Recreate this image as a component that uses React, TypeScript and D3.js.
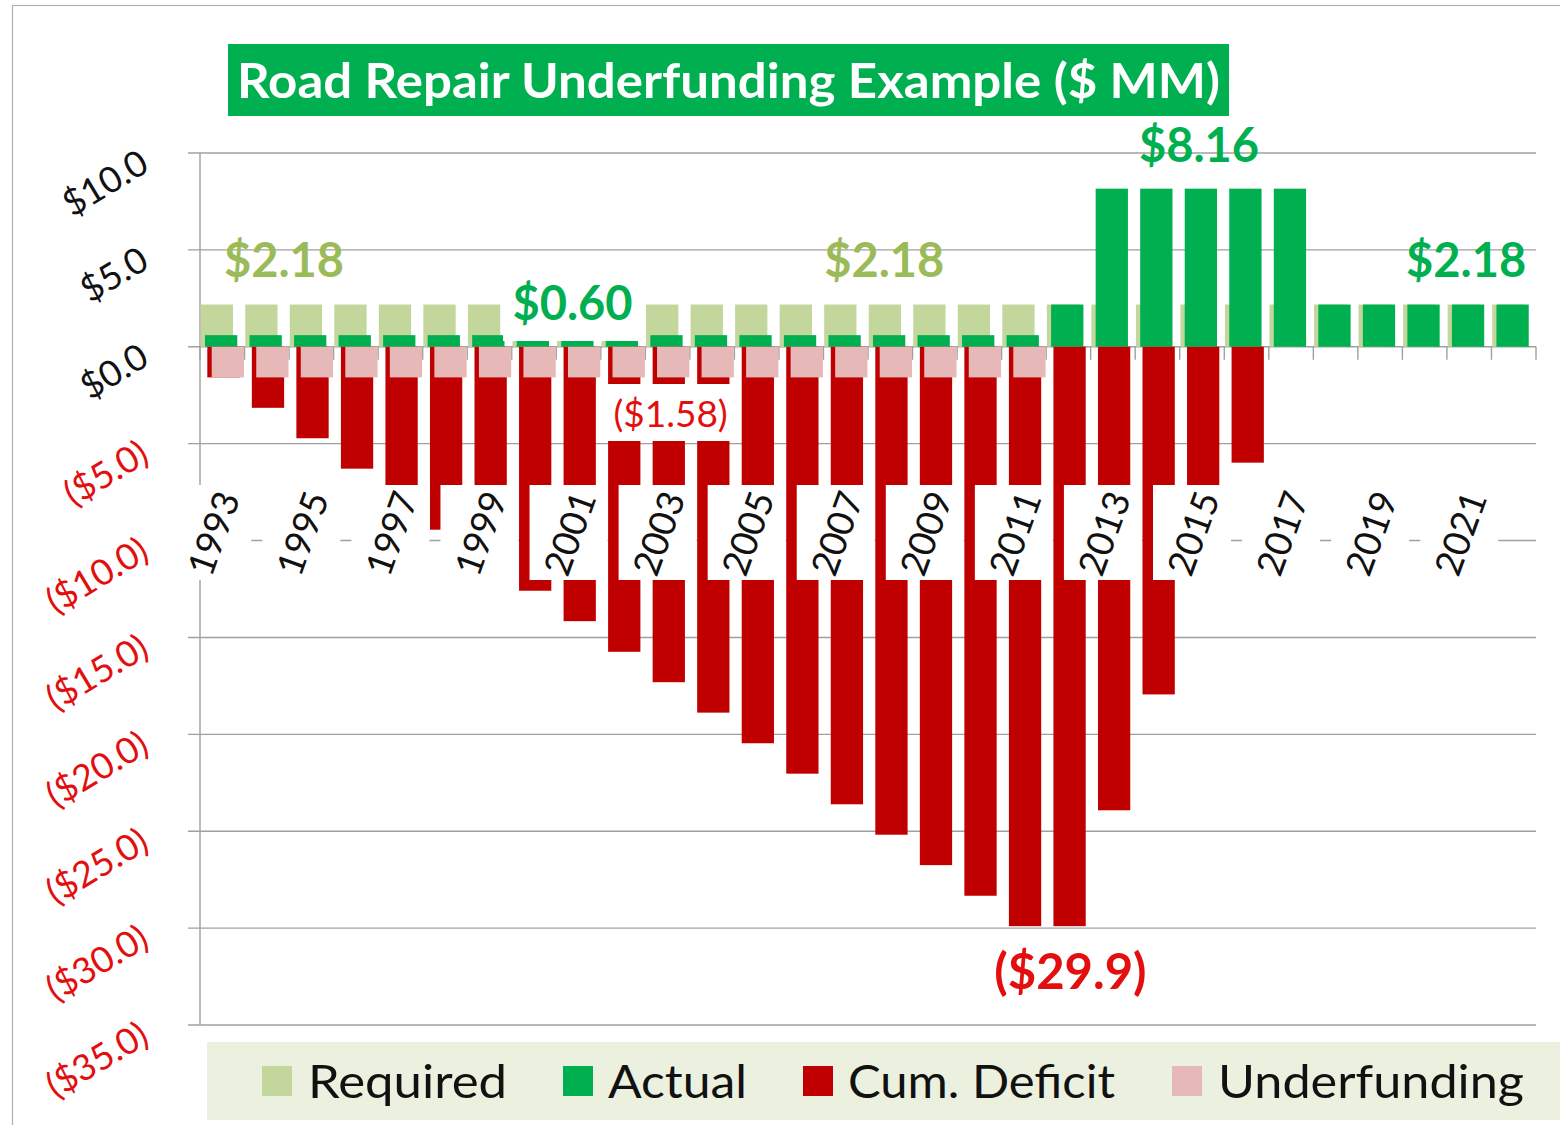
import React from 'react';
import * as d3 from 'd3';

const years = ['1993','1994','1995','1996','1997','1998','1999','2000','2001','2002','2003','2004','2005','2006','2007','2008','2009','2010','2011','2012','2013','2014','2015','2016','2017','2018','2019','2020','2021','2022'];
const required = [2.18,2.18,2.18,2.18,2.18,2.18,2.18,2.18,2.18,2.18,2.18,2.18,2.18,2.18,2.18,2.18,2.18,2.18,2.18,2.18,2.18,2.18,2.18,2.18,2.18,2.18,2.18,2.18,2.18,2.18];
const actual = [0.6,0.6,0.6,0.6,0.6,0.6,0.6,0.6,0.6,0.6,0.6,0.6,0.6,0.6,0.6,0.6,0.6,0.6,0.6,2.18,8.16,8.16,8.16,8.16,8.16,2.18,2.18,2.18,2.18,2.18];
const cumDeficit = [-1.58,-3.15,-4.72,-6.29,-7.87,-9.44,-11.02,-12.59,-14.16,-15.74,-17.31,-18.88,-20.46,-22.03,-23.61,-25.18,-26.75,-28.33,-29.9,-29.9,-23.92,-17.94,-11.96,-5.98,0,0,0,0,0,0];
const underfunding = [-1.58,-1.58,-1.58,-1.58,-1.58,-1.58,-1.58,-1.58,-1.58,-1.58,-1.58,-1.58,-1.58,-1.58,-1.58,-1.58,-1.58,-1.58,-1.58,0,0,0,0,0,0,0,0,0,0,0];
const xTickYears = ['1993','1995','1997','1999','2001','2003','2005','2007','2009','2011','2013','2015','2017','2019','2021'];
const legendLabels = ['Required','Actual','Cum. Deficit','Underfunding'];
const titleText = 'Road Repair Underfunding Example ($ MM)';

const C_REQ = '#c3d69b';
const C_ACT = '#00b050';
const C_CUM = '#c00000';
const C_UND = '#e6b9b8';
const C_LIGHTLBL = '#9bbb59';
const C_NEG = '#e30e0e';
const GRID = '#a0a0a0';
const FONT = 'Lato, "Open Sans", sans-serif';

export default function App() {
  const W = 1560, H = 1125;
  const y = d3.scaleLinear().domain([-35, 10]).range([1025, 153]);
  const x = d3.scaleBand<string>().domain(years).range([200, 1536]).padding(0);
  const step = x.step();
  const bw = step * 0.725;
  const series = [
    { vals: required, off: 0.016, color: C_REQ },
    { vals: actual, off: 0.112, color: C_ACT },
    { vals: cumDeficit, off: 0.164, color: C_CUM },
    { vals: underfunding, off: 0.263, color: C_UND },
  ];
  const yTicks = y.ticks(10);
  const fmt = (v: number) => (v >= 0 ? `$${v.toFixed(1)}` : `($${(-v).toFixed(1)})`);
  const cx = (yr: string) => (x(yr) as number) + step / 2;

  const legendPos = [
    { sx: 262, tx: 308, tl: 199, color: C_REQ },
    { sx: 563, tx: 608, tl: 139, color: C_ACT },
    { sx: 803, tx: 848, tl: 267, color: C_CUM },
    { sx: 1172, tx: 1218, tl: 306, color: C_UND },
  ];

  return (
    <svg width={W} height={H} style={{ position: 'absolute', left: 0, top: 0, background: '#fff' }} fontFamily={FONT}>
      <rect x={0} y={0} width={W} height={H} fill="#fff" />
      <rect x={12.5} y={5.5} width={W + 20} height={H + 20} fill="none" stroke="#b0b0b0" strokeWidth={1.2} />

      {/* gridlines */}
      {yTicks.map((t) => (
        <line key={'g' + t} x1={188} x2={1536} y1={y(t)} y2={y(t)} stroke={GRID} strokeWidth={1.4} />
      ))}
      <line x1={200} x2={200} y1={y(10)} y2={y(-35)} stroke={GRID} strokeWidth={1.4} />
      {/* category ticks at zero */}
      {years.map((yr) => (
        <line key={'ct' + yr} x1={x(yr) as number} x2={x(yr) as number} y1={y(0)} y2={y(0) + 13} stroke={GRID} strokeWidth={1.4} />
      ))}
      <line x1={1536} x2={1536} y1={y(0)} y2={y(0) + 13} stroke={GRID} strokeWidth={1.4} />

      {/* bars */}
      {series.map((s, si) => (
        <g key={'s' + si}>
          {years.map((yr, i) => {
            const v = s.vals[i];
            if (v === 0) return null;
            const y0 = y(Math.max(0, v));
            const y1 = y(Math.min(0, v));
            return <rect key={yr} x={(x(yr) as number) + step * s.off} y={y0} width={bw} height={y1 - y0} fill={s.color} />;
          })}
        </g>
      ))}

      {/* x axis labels with white boxes */}
      {xTickYears.map((yr) => {
        const lx = cx(yr) - 10;
        const ly = 533;
        return (
          <g key={'xl' + yr}>
            <rect x={lx - 39} y={485} width={78} height={95} fill="#fff" />
            <text x={lx} y={ly} transform={`rotate(-70 ${lx} ${ly})`} textAnchor="middle" dominantBaseline="central" fontSize={37} fill="#111">{yr}</text>
          </g>
        );
      })}

      {/* y axis labels */}
      {yTicks.map((t) => {
        const ax = 151, ay = y(t) + 17;
        return (
          <text key={'yl' + t} x={ax} y={ay} transform={`rotate(-31 ${ax} ${ay})`} textAnchor="end" fontSize={36} fill={t < 0 ? C_NEG : '#111'}>{fmt(t)}</text>
        );
      })}

      {/* data labels */}
      <text x={284} y={y(2.18) - 28} textAnchor="middle" fontSize={47} fontWeight={700} fill={C_LIGHTLBL}>${required[1].toFixed(2)}</text>
      <text x={cx('2008') - 6} y={y(2.18) - 28} textAnchor="middle" fontSize={47} fontWeight={700} fill={C_LIGHTLBL}>${required[15].toFixed(2)}</text>
      <text x={cx('2021') - 3} y={y(2.18) - 28} textAnchor="middle" fontSize={47} fontWeight={700} fill={C_ACT}>${actual[28].toFixed(2)}</text>
      <text x={cx('2015') - 3} y={y(8.16) - 27} textAnchor="middle" fontSize={47} fontWeight={700} fill={C_ACT}>${actual[22].toFixed(2)}</text>
      <rect x={503} y={280} width={138} height={61} fill="#fff" />
      <text x={cx('2001') - 6} y={y(0.6) - 15} textAnchor="middle" fontSize={47} fontWeight={700} fill={C_ACT}>${actual[8].toFixed(2)}</text>
      <rect x={603} y={384} width={133} height={57} fill="#fff" />
      <text x={cx('2003') + 3} y={y(-1.58) + 50} textAnchor="middle" fontSize={37} fill={C_NEG}>{`($${(-underfunding[10]).toFixed(2)})`}</text>
      <text x={cx('2012') + 2} y={y(-29.9) + 63} textAnchor="middle" fontSize={49} fontWeight={700} fill={C_NEG}>{`($${(-cumDeficit[18]).toFixed(1)})`}</text>

      {/* title */}
      <rect x={228} y={44} width={1001} height={72} fill={C_ACT} />
      <text x={237} y={98} fontSize={48} fontWeight={700} fill="#fff" textLength={983} lengthAdjust="spacingAndGlyphs">{titleText}</text>

      {/* legend */}
      <rect x={207} y={1042} width={1360} height={78} fill="#ebf1de" />
      {legendLabels.map((l, i) => (
        <g key={'lg' + l}>
          <rect x={legendPos[i].sx} y={1066} width={30} height={30} fill={legendPos[i].color} />
          <text x={legendPos[i].tx} y={1098} fontSize={46} fill="#111" textLength={legendPos[i].tl} lengthAdjust="spacingAndGlyphs">{l}</text>
        </g>
      ))}
    </svg>
  );
}
